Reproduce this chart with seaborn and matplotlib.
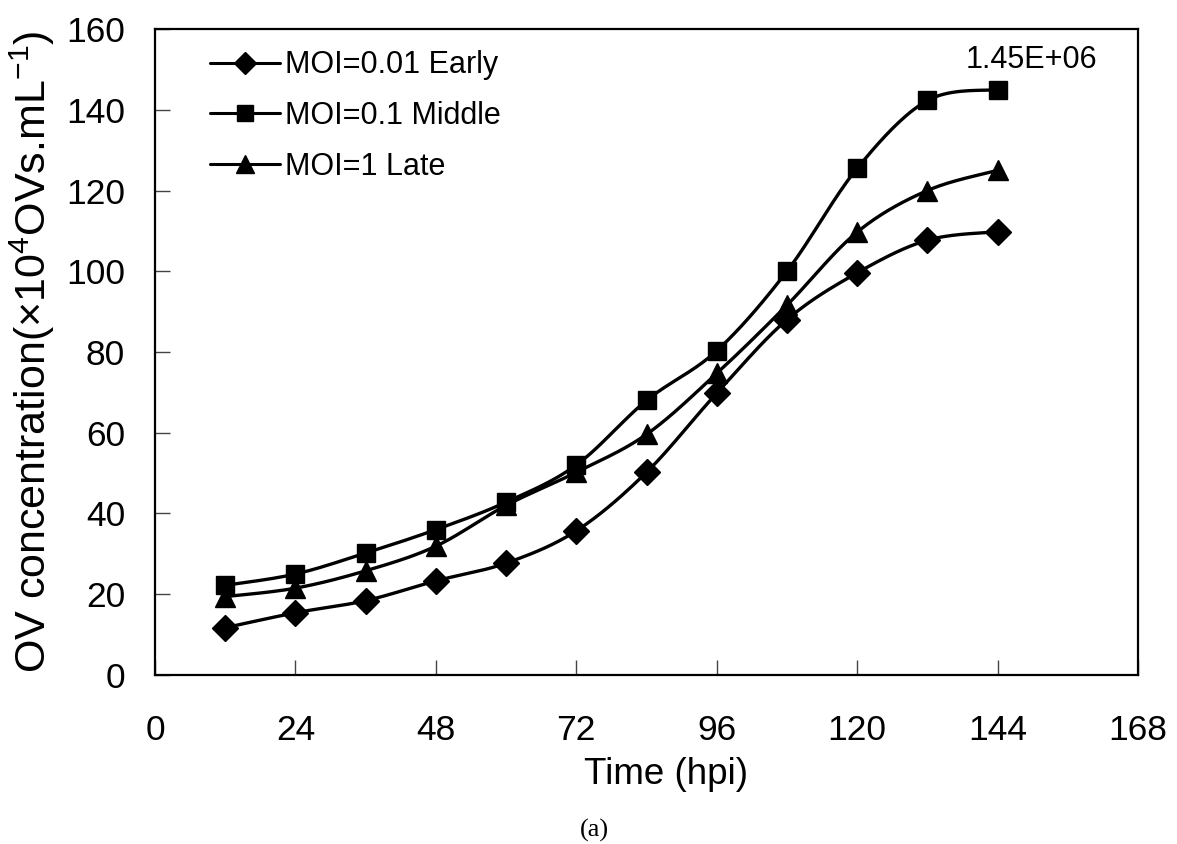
import numpy as np
import pandas as pd
import matplotlib
matplotlib.use("Agg")
import matplotlib.pyplot as plt
from matplotlib.lines import Line2D
import seaborn as sns

hours = [12, 24, 36, 48, 60, 72, 84, 96, 108, 120, 132, 144]
early = [11.7, 15.4, 18.4, 23.3, 27.7, 35.7, 50.2, 69.8, 88.0, 99.6, 107.7, 109.8]
middle = [22.2, 25.0, 30.2, 36.0, 42.8, 52.0, 68.0, 80.3, 100.0, 125.5, 142.3, 145.0]
late = [19.4, 21.5, 25.8, 31.9, 42.0, 50.2, 59.6, 74.7, 91.6, 109.7, 120.0, 125.0]
series_names = ["MOI=0.01 Early", "MOI=0.1 Middle", "MOI=1 Late"]
series_markers = ["D", "s", "^"]
x_ticks = [0, 24, 48, 72, 96, 120, 144, 168]
y_ticks = [0, 20, 40, 60, 80, 100, 120, 140, 160]
annotation = "1.45E+06"

sns.set_style("ticks")
plt.rcParams["font.family"] = ["Liberation Sans", "DejaVu Sans"]
plt.rcParams["mathtext.fontset"] = "custom"
plt.rcParams["mathtext.rm"] = "Liberation Sans"
plt.rcParams["mathtext.it"] = "Liberation Sans:italic"
plt.rcParams["mathtext.bf"] = "Liberation Sans:bold"
plt.rcParams["text.color"] = "black"
plt.rcParams["axes.labelcolor"] = "black"
plt.rcParams["xtick.color"] = "black"
plt.rcParams["ytick.color"] = "black"


def smooth(xs, ys, n=20):
    """Excel-like Bezier smoothing through the data points."""
    xs = np.asarray(xs, float)
    ys = np.asarray(ys, float)
    P = np.column_stack([xs, ys])
    out = []
    m = len(P)
    for i in range(m - 1):
        p0 = P[i - 1] if i > 0 else P[i]
        p1 = P[i]
        p2 = P[i + 1]
        p3 = P[i + 2] if i + 2 < m else P[i + 1]
        c1 = p1 + (p2 - p0) / 6.0
        c2 = p2 - (p3 - p1) / 6.0
        t = np.linspace(0, 1, n, endpoint=(i == m - 2))[:, None]
        b = ((1 - t) ** 3) * p1 + 3 * ((1 - t) ** 2) * t * c1 + 3 * (1 - t) * t ** 2 * c2 + t ** 3 * p2
        out.append(b)
    out = np.vstack(out)
    return out[:, 0], out[:, 1]


fig = plt.figure(figsize=(11.77, 8.44), dpi=100)
ax = fig.add_axes([0.1317, 0.2003, 0.8352, 0.7653])

all_vals = [early, middle, late]
rows = []
pts = []
for name, vals in zip(series_names, all_vals):
    sx, sy = smooth(hours, vals)
    for a, b in zip(sx, sy):
        rows.append({"x": a, "y": b, "series": name})
    for a, b in zip(hours, vals):
        pts.append({"x": a, "y": b, "series": name})
curve_df = pd.DataFrame(rows)
pts_df = pd.DataFrame(pts)

sns.lineplot(data=curve_df, x="x", y="y", units="series", estimator=None,
             color="black", linewidth=2.4, sort=False, legend=False, ax=ax)
for name, mk in zip(series_names, series_markers):
    sub = pts_df[pts_df["series"] == name]
    size = 13 if mk == "D" else (15 if mk == "^" else 13.5)
    ax.plot(sub["x"], sub["y"], linestyle="none", marker=mk, color="black",
            markersize=size, zorder=3)

handles = []
for name, mk in zip(series_names, series_markers):
    size = 11 if mk == "D" else (13 if mk == "^" else 12)
    handles.append(Line2D([0], [0], color="black", linewidth=2.2, marker=mk,
                          markersize=size, label=name))
ax.legend(handles=handles, loc="upper left", bbox_to_anchor=(0.056, 0.967),
          frameon=False, fontsize=22, handlelength=2.3, handletextpad=0.15,
          labelspacing=0.68, borderpad=0, borderaxespad=0)

ax.text(149.7, 148.5, annotation, fontsize=22, ha="center", va="bottom")

ax.set_xlim(0, 168)
ax.set_ylim(0, 160)
ax.set_xticks(x_ticks)
ax.set_yticks(y_ticks)
ax.tick_params(axis="both", direction="in", length=11, width=1.0, labelsize=25.5,
               color="#444444", labelcolor="black")
ax.tick_params(axis="x", pad=28)
ax.tick_params(axis="y", pad=21.5)
for s in ax.spines.values():
    s.set_visible(True)
    s.set_linewidth(1.6)
    s.set_color("black")

ax.set_xlabel("Time (hpi)", fontsize=26.5)
ax.xaxis.set_label_coords(0.52, -0.127)
ax.set_ylabel(r"OV concentration(×10$^{4}$OVs.mL$^{-1}$)", fontsize=31)
ax.yaxis.set_label_coords(-0.0997, 0.5)
fig.text(0.5047, 0.0166, "(a)", fontsize=19, ha="center", va="center",
         family=["Liberation Serif", "DejaVu Serif"])

fig.savefig("out.png", dpi=100)
